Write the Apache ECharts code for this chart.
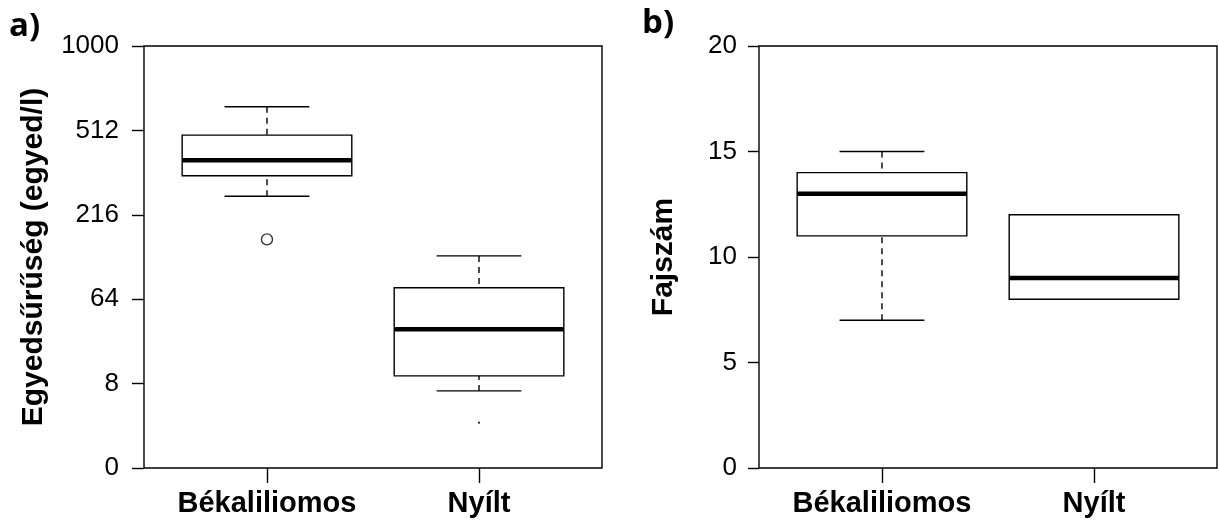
<!DOCTYPE html>
<html>
<head>
<meta charset="utf-8">
<script src="https://cdn.jsdelivr.net/npm/echarts@6/dist/echarts.min.js"></script>
<style>
html,body{margin:0;padding:0;background:#fff;}
#chart{width:1219px;height:529px;}
</style>
</head>
<body>
<div id="chart"></div>
<script>
// ---- data ----
const categories = ['Békaliliomos', 'Nyílt'];
const categoryPositions = [1, 2];

// panel a) density (egyed/l), raw values, drawn on a cube-root axis
const densityLow    = [267, 6.1];
const densityQ1     = [332, 10.4];
const densityMedian = [388, 35.5];
const densityQ3     = [491, 78];
const densityHigh   = [627, 127];
const densityOutliers = [[1, 159], [2, 1.24]];
const densityTickLabels = ['0', '8', '64', '216', '512', '1000'];

// panel b) species number
const speciesLow    = [7, 8];
const speciesQ1     = [11, 8];
const speciesMedian = [13, 9];
const speciesQ3     = [14, 12];
const speciesHigh   = [15, 12];
const speciesTickLabels = ['0', '5', '10', '15', '20'];

// ---- build ----
const cbrt = v => Math.cbrt(v);
const FONT = "'Liberation Sans', Arial, sans-serif";

function boxData(low, q1, med, q3, high, tf) {
  return categoryPositions.map((x, i) => [x, tf(low[i]), tf(q1[i]), tf(med[i]), tf(q3[i]), tf(high[i])]);
}
const ident = v => v;
const densityBoxes = boxData(densityLow, densityQ1, densityMedian, densityQ3, densityHigh, cbrt);
const speciesBoxes = boxData(speciesLow, speciesQ1, speciesMedian, speciesQ3, speciesHigh, ident);

const HALF_BOX = 0.4, HALF_CAP = 0.2;
function renderBox(params, api) {
  const x = api.value(0);
  const lo = api.value(1), q1 = api.value(2), md = api.value(3), q3 = api.value(4), hi = api.value(5);
  const pBL = api.coord([x - HALF_BOX, q1]);
  const pTR = api.coord([x + HALF_BOX, q3]);
  const pMidL = api.coord([x - HALF_BOX, md]);
  const pMidR = api.coord([x + HALF_BOX, md]);
  const c = api.coord([x, lo]), cq1 = api.coord([x, q1]), cq3 = api.coord([x, q3]), ch = api.coord([x, hi]);
  const capL = api.coord([x - HALF_CAP, lo]), capR = api.coord([x + HALF_CAP, lo]);
  const capHL = api.coord([x - HALF_CAP, hi]), capHR = api.coord([x + HALF_CAP, hi]);
  const thin = {stroke: '#000', lineWidth: 1.4, fill: null};
  const dashed = {stroke: '#000', lineWidth: 1.4, lineDash: [6, 5], fill: null};
  return {
    type: 'group',
    children: [
      {type: 'line', shape: {x1: ch[0], y1: ch[1], x2: cq3[0], y2: cq3[1]}, style: dashed},
      {type: 'line', shape: {x1: c[0], y1: c[1], x2: cq1[0], y2: cq1[1]}, style: dashed},
      {type: 'line', shape: {x1: capL[0], y1: capL[1], x2: capR[0], y2: capR[1]}, style: thin},
      {type: 'line', shape: {x1: capHL[0], y1: capHL[1], x2: capHR[0], y2: capHR[1]}, style: thin},
      {type: 'rect', shape: {x: pBL[0], y: pTR[1], width: pTR[0] - pBL[0], height: pBL[1] - pTR[1]},
        style: {stroke: '#000', lineWidth: 1.4, fill: '#fff'}},
      {type: 'line', shape: {x1: pMidL[0], y1: pMidL[1], x2: pMidR[0], y2: pMidR[1]},
        style: {stroke: '#000', lineWidth: 4.5}}
    ]
  };
}

function xAxisFor(gridIndex) {
  return {
    gridIndex, type: 'value', min: 0.42, max: 2.58,
    axisLine: {show: false}, splitLine: {show: false},
    axisTick: {show: true, customValues: categoryPositions, length: 15, lineStyle: {color: '#000', width: 1.4}},
    axisLabel: {show: true, customValues: categoryPositions, margin: 21,
      formatter: v => categories[categoryPositions.indexOf(Math.round(v))] || '',
      color: '#000', fontFamily: FONT, fontWeight: 'bold', fontSize: 29}
  };
}

const option = {
  animation: false,
  backgroundColor: '#fff',
  grid: [
    {left: 144, top: 46, width: 458, height: 422, show: true, borderColor: '#000', borderWidth: 1.4, backgroundColor: 'transparent'},
    {left: 759, top: 46, width: 458, height: 422, show: true, borderColor: '#000', borderWidth: 1.4, backgroundColor: 'transparent'}
  ],
  xAxis: [xAxisFor(0), xAxisFor(1)],
  yAxis: [
    {
      gridIndex: 0, type: 'value', min: 0, max: 10, interval: 2,
      name: 'Egyedsűrűség (egyed/l)', nameLocation: 'middle', nameGap: 95,
      nameTextStyle: {color: '#000', fontFamily: FONT, fontWeight: 'bold', fontSize: 30},
      axisLine: {show: false}, splitLine: {show: false},
      axisTick: {show: true, length: 12, lineStyle: {color: '#000', width: 1.4}},
      axisLabel: {margin: 25, color: '#000', fontFamily: FONT, fontSize: 26,
        formatter: v => densityTickLabels[Math.round(v / 2)]}
    },
    {
      gridIndex: 1, type: 'value', min: 0, max: 20, interval: 5,
      name: 'Fajszám', nameLocation: 'middle', nameGap: 80,
      nameTextStyle: {color: '#000', fontFamily: FONT, fontWeight: 'bold', fontSize: 30},
      axisLine: {show: false}, splitLine: {show: false},
      axisTick: {show: true, length: 11, lineStyle: {color: '#000', width: 1.4}},
      axisLabel: {margin: 22, color: '#000', fontFamily: FONT, fontSize: 26,
        formatter: v => speciesTickLabels[Math.round(v / 5)]}
    }
  ],
  graphic: [
    {type: 'text', left: 9, top: 10, style: {text: 'a)', font: "bold 33px 'Open Sans', sans-serif", fill: '#000'}},
    {type: 'text', left: 642, top: 7, style: {text: 'b)', font: "bold 33px 'Open Sans', sans-serif", fill: '#000'}}
  ],
  series: [
    {type: 'custom', xAxisIndex: 0, yAxisIndex: 0, renderItem: renderBox, data: densityBoxes,
      encode: {x: 0, y: [1, 2, 3, 4, 5]}, clip: false},
    {type: 'scatter', xAxisIndex: 0, yAxisIndex: 0, silent: true,
      data: densityOutliers.filter((d, i) => i === 0).map(d => [d[0], cbrt(d[1])]),
      symbol: 'circle', symbolSize: 11,
      itemStyle: {color: 'rgba(255,255,255,0)', borderColor: '#000', borderWidth: 1.4}},
    {type: 'scatter', xAxisIndex: 0, yAxisIndex: 0, silent: true,
      data: densityOutliers.filter((d, i) => i === 1).map(d => [d[0], cbrt(d[1])]),
      symbol: 'rect', symbolSize: 2, itemStyle: {color: '#000'}},
    {type: 'custom', xAxisIndex: 1, yAxisIndex: 1, renderItem: renderBox, data: speciesBoxes,
      encode: {x: 0, y: [1, 2, 3, 4, 5]}, clip: false}
  ]
};

const chart = echarts.init(document.getElementById('chart'), null, {renderer: 'canvas'});
chart.setOption(option);
</script>
</body>
</html>
